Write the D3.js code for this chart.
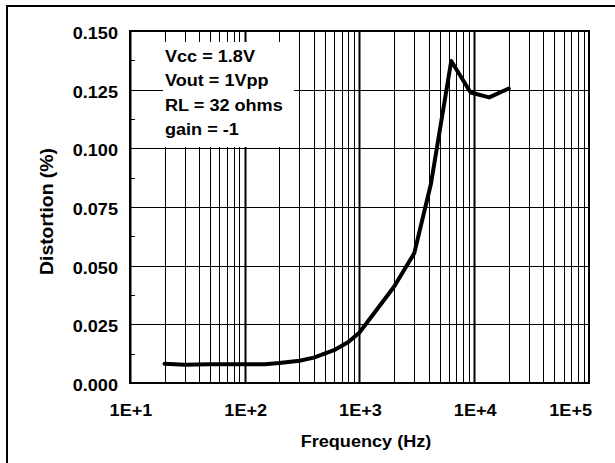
<!DOCTYPE html>
<html>
<head>
<meta charset="utf-8">
<script src="https://cdn.jsdelivr.net/npm/d3@7"></script>
<style>
  html, body { margin: 0; padding: 0; background: #fff; }
  svg { display: block; }
  text { font-family: "Liberation Sans", Arial, Helvetica, sans-serif; font-weight: bold; fill: #000; }
</style>
</head>
<body>
<svg id="chart" width="615" height="463"></svg>
<script>
// ---- data ----
const frequencies = [20, 30, 50, 100, 150, 200, 300, 400, 600, 800, 1000, 2000, 3000, 4200, 6300, 9300, 13500, 20000];
const distortion  = [0.0082, 0.0078, 0.0080, 0.0080, 0.0080, 0.0085, 0.0095, 0.0108, 0.0140, 0.0175, 0.0215, 0.0410, 0.0553, 0.0850, 0.1372, 0.1238, 0.1217, 0.1255];
const yTicks = [0, 0.025, 0.05, 0.075, 0.1, 0.125, 0.15];
const yTickLabels = ["0.000", "0.025", "0.050", "0.075", "0.100", "0.125", "0.150"];
const xTicks = [1e1, 1e2, 1e3, 1e4, 1e5];
const xTickLabels = ["1E+1", "1E+2", "1E+3", "1E+4", "1E+5"];
const legendLines = ["Vcc = 1.8V", "Vout = 1Vpp", "RL = 32 ohms", "gain = -1"];
const xTitle = "Frequency (Hz)";
const yTitle = "Distortion (%)";

(function () {
const svg = d3.select("#chart");
const pL = 130, pR = 589, pT = 31, pB = 383;
const x = d3.scaleLog().domain([10, 1e5]).range([pL, pR]);
const y = d3.scaleLinear().domain([0, 0.15]).range([pB, pT]);
const STRETCH = 1.13;

function stext(g, str, px, py, anchor, size) {
  const t = g.append("text").attr("font-size", size).attr("y", py).text(str);
  const w = t.node().getComputedTextLength() * STRETCH;
  let sx = px;
  if (anchor === "middle") sx = px - w / 2;
  else if (anchor === "end") sx = px - w;
  t.attr("x", sx).attr("textLength", w).attr("lengthAdjust", "spacingAndGlyphs");
  return t;
}

// outer frame (clipped by the picture on right and bottom)
svg.append("rect").attr("x", 7).attr("y", 6).attr("width", 700).attr("height", 700)
  .attr("fill", "none").attr("stroke", "#000").attr("stroke-width", 2);

const grid = svg.append("g");
const vLines = [];
for (let d = 1; d < 5; d++) for (let m = 1; m <= 9; m++) vLines.push({ f: m * Math.pow(10, d), major: m === 1 });
grid.selectAll("line.v").data(vLines).join("line").attr("class", "v")
  .attr("x1", d => Math.round(x(d.f)) + 0.5).attr("x2", d => Math.round(x(d.f)) + 0.5)
  .attr("y1", pT).attr("y2", pB)
  .attr("stroke", "#000").attr("stroke-width", d => d.major ? 2 : 1);
grid.selectAll("line.h").data(yTicks).join("line").attr("class", "h")
  .attr("x1", pL).attr("x2", pR)
  .attr("y1", d => Math.round(y(d)) + 0.5).attr("y2", d => Math.round(y(d)) + 0.5)
  .attr("stroke", "#000").attr("stroke-width", 1);
const minor = d3.range(0, 6).map(i => yTicks[i] + 0.0125);
grid.selectAll("line.m").data(minor).join("line").attr("class", "m")
  .attr("x1", pL).attr("x2", pL + 5)
  .attr("y1", d => Math.round(y(d)) + 0.5).attr("y2", d => Math.round(y(d)) + 0.5)
  .attr("stroke", "#000").attr("stroke-width", 1);

// legend box (white, hides grid)
svg.append("rect").attr("x", 163).attr("y", 42).attr("width", 131).attr("height", 105).attr("fill", "#fff");
const lg = svg.append("g");
legendLines.forEach((s, i) => stext(lg, s, 165, 62 + i * 24.4, "start", 16));

// plot border
svg.append("rect").attr("x", pL).attr("y", pT).attr("width", pR - pL).attr("height", pB - pT)
  .attr("fill", "none").attr("stroke", "#000").attr("stroke-width", 2);

// curve
const data = frequencies.map((f, i) => ({ f, v: distortion[i] }));
svg.append("path").datum(data)
  .attr("d", d3.line().x(d => x(d.f)).y(d => y(d.v)))
  .attr("fill", "none").attr("stroke", "#000").attr("stroke-width", 4)
  .attr("stroke-linejoin", "round").attr("stroke-linecap", "round");

// y tick labels
const yl = svg.append("g");
yTicks.forEach((v, i) => stext(yl, yTickLabels[i], 118, y(v) + 8, "end", 16));
// x tick labels
const xl = svg.append("g");
xTicks.forEach((f, i) => {
  if (i === xTicks.length - 1) stext(xl, xTickLabels[i], 592, 416, "end", 16);
  else stext(xl, xTickLabels[i], x(f) + 1, 416, "middle", 16);
});

// axis titles
stext(svg.append("g"), xTitle, 366, 447, "middle", 16);
svg.append("text").attr("font-size", 18)
  .attr("transform", "translate(53,211.5) rotate(-90)")
  .attr("text-anchor", "middle").attr("textLength", 127).attr("lengthAdjust", "spacingAndGlyphs")
  .text(yTitle);
})();
</script>
</body>
</html>
